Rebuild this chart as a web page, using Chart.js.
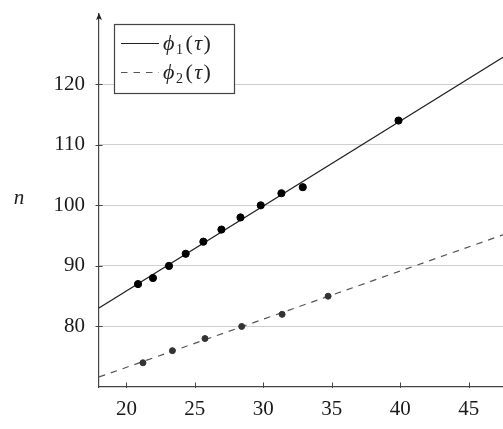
<!DOCTYPE html>
<html>
<head>
<meta charset="utf-8">
<script src="https://cdn.jsdelivr.net/npm/chart.js@4.4.1/dist/chart.umd.min.js"></script>
<style>
  html, body { margin: 0; padding: 0; background: #fff; }
  #wrap { width: 503px; height: 429px; position: relative; }
</style>
</head>
<body>
<div id="wrap"><canvas id="chart"></canvas></div>
<script>
// measured points
const phi1Tau = [20.85, 21.94, 23.11, 24.33, 25.62, 26.94, 28.33, 29.81, 31.32, 32.88, 39.87];
const phi1N = [87, 88, 90, 92, 94, 96, 98, 100, 102, 103, 114];
const phi2Tau = [21.21, 23.36, 25.74, 28.42, 31.37, 34.73];
const phi2N = [74, 76, 78, 80, 82, 85];

// fitted lines (ends of the visible segment)
const fitTau = [18, 47.5];
const phi1Fit = [83.04, 124.45];
const phi2Fit = [71.65, 95.13];

const xTicks = [20, 25, 30, 35, 40, 45];
const yTicks = [80, 90, 100, 110, 120];
const seriesLabels = ['ϕ₁(τ)', 'ϕ₂(τ)'];
const yLabel = 'n';

const SERIF = '"Liberation Serif", "DejaVu Serif", serif';

function toPoints(xs, ys) {
    return xs.map((x, i) => ({ x: x, y: ys[i] }));
}

// small math label: letters italic, parens upright, subscript digits lowered
function drawMath(ctx, text, x, y) {
    const subs = '₀₁₂₃₄₅₆₇₈₉';
    ctx.textBaseline = 'alphabetic';
    ctx.textAlign = 'left';
    for (const ch of text) {
        let s = ch, font = 'italic 22px ' + SERIF, dy = 0, pad = 1.5;
        if (subs.includes(ch)) {
            s = String(subs.indexOf(ch));
            font = '14px ' + SERIF;
            dy = 3.5;
            pad = 2.5;
        } else if (ch === '(' || ch === ')') {
            font = '22px ' + SERIF;
            pad = 1.5;
        }
        ctx.font = font;
        ctx.fillText(s, x, y + dy);
        x += ctx.measureText(s).width + pad;
    }
}

const texDecor = {
    id: 'texDecor',
    afterDraw(chart) {
        const ctx = chart.ctx;
        const xs = chart.scales.x;
        const ys = chart.scales.y;
        const area = chart.chartArea;
        ctx.save();

        // tick marks
        ctx.strokeStyle = '#444';
        ctx.lineWidth = 1;
        ctx.beginPath();
        yTicks.forEach(v => {
            const py = Math.round(ys.getPixelForValue(v)) + 0.5;
            ctx.moveTo(area.left - 3.5, py);
            ctx.lineTo(area.left + 3.5, py);
        });
        xTicks.forEach(v => {
            const px = Math.round(xs.getPixelForValue(v)) + 0.5;
            ctx.moveTo(px, area.bottom - 4.5);
            ctx.lineTo(px, area.bottom + 1);
        });
        ctx.stroke();

        // arrow at the top of the y axis
        ctx.fillStyle = '#222';
        ctx.beginPath();
        ctx.moveTo(area.left, area.top - 1);
        ctx.lineTo(area.left - 3, area.top + 6);
        ctx.lineTo(area.left, area.top + 4.5);
        ctx.lineTo(area.left + 3, area.top + 6);
        ctx.closePath();
        ctx.fill();

        // y axis label
        ctx.fillStyle = '#222';
        ctx.font = 'italic 21px ' + SERIF;
        ctx.textAlign = 'center';
        ctx.textBaseline = 'middle';
        ctx.fillText(yLabel, 19, 198);

        // legend
        const bx = 114, by = 24, bw = 120, bh = 69;
        ctx.fillStyle = '#fff';
        ctx.fillRect(bx, by, bw, bh);
        ctx.strokeStyle = '#444';
        ctx.lineWidth = 1.2;
        ctx.strokeRect(bx + 0.5, by + 0.5, bw, bh);
        seriesLabels.forEach((lbl, i) => {
            const ds = chart.data.datasets[i];
            const ly = 43.5 + i * 29;
            ctx.strokeStyle = ds.borderColor;
            ctx.lineWidth = ds.borderWidth;
            ctx.setLineDash(ds.borderDash || []);
            ctx.beginPath();
            ctx.moveTo(121, ly);
            ctx.lineTo(159, ly);
            ctx.stroke();
            ctx.setLineDash([]);
            ctx.fillStyle = '#222';
            drawMath(ctx, lbl, 163, ly + 6.5);
        });
        ctx.restore();
    }
};

new Chart(document.getElementById('chart'), {
    type: 'scatter',
    data: {
        datasets: [
            {
                label: seriesLabels[0],
                data: toPoints(fitTau, phi1Fit),
                showLine: true,
                borderColor: '#222',
                borderWidth: 1.2,
                pointRadius: 0,
                order: 2
            },
            {
                label: seriesLabels[1],
                data: toPoints(fitTau, phi2Fit),
                showLine: true,
                borderColor: '#555',
                borderWidth: 1.2,
                borderDash: [6.5, 6],
                pointRadius: 0,
                order: 2
            },
            {
                label: 'phi1 data',
                data: toPoints(phi1Tau, phi1N),
                backgroundColor: '#000',
                borderColor: '#000',
                pointRadius: 3.6,
                order: 1
            },
            {
                label: 'phi2 data',
                data: toPoints(phi2Tau, phi2N),
                backgroundColor: '#333',
                borderColor: '#333',
                pointRadius: 3,
                order: 1
            }
        ]
    },
    options: {
        responsive: true,
        maintainAspectRatio: false,
        animation: false,
        layout: { autoPadding: false, padding: { top: 14, right: 0, left: 0, bottom: 0 } },
        plugins: {
            legend: { display: false },
            tooltip: { enabled: false }
        },
        scales: {
            x: {
                type: 'linear',
                min: 18,
                max: 47.5,
                afterBuildTicks: (scale) => { scale.ticks = xTicks.map(v => ({ value: v })); },
                afterFit: (scale) => {
                    scale.height = 42;
                    scale.paddingLeft = 0;
                    scale.paddingRight = 0;
                },
                grid: { display: false, drawTicks: false },
                border: { display: true, color: '#444', width: 1.2 },
                ticks: {
                    color: '#1a1a1a',
                    padding: 10,
                    maxRotation: 0,
                    font: { family: SERIF, size: 21 }
                }
            },
            y: {
                type: 'linear',
                min: 70,
                max: 131.6,
                afterBuildTicks: (scale) => { scale.ticks = yTicks.map(v => ({ value: v })); },
                afterFit: (scale) => {
                    scale.width = 99;
                    scale.paddingTop = 0;
                    scale.paddingBottom = 0;
                },
                grid: { color: '#cfcfcf', lineWidth: 1, drawTicks: false },
                border: { display: true, color: '#444', width: 1.2 },
                ticks: {
                    color: '#1a1a1a',
                    padding: 14,
                    font: { family: SERIF, size: 21 }
                }
            }
        }
    },
    plugins: [texDecor]
});
</script>
</body>
</html>
